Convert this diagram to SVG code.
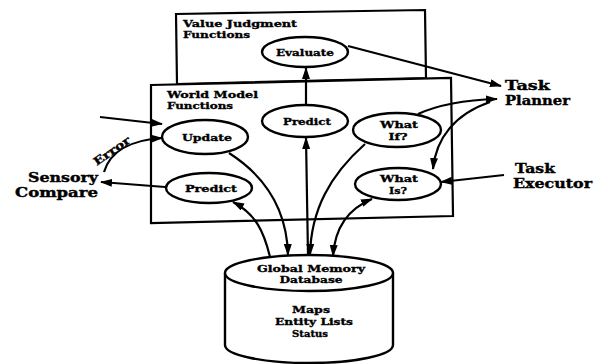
<svg xmlns="http://www.w3.org/2000/svg" width="598" height="364" viewBox="0 0 598 364">
<defs>
<marker id="ah" viewBox="0 0 12 8" refX="11" refY="4" markerWidth="12" markerHeight="8" markerUnits="userSpaceOnUse" orient="auto-start-reverse">
<path d="M0,0 L12,4 L0,8 Z" fill="#000"/>
</marker>
<style>
.b{fill:none;stroke:#000;stroke-width:2.2}
.e{fill:#fff;stroke:#000;stroke-width:2.4}
.c{fill:none;stroke:#000;stroke-width:2.2}
.s{font-family:"DejaVu Serif","Liberation Serif",serif;font-weight:bold;font-size:10px;fill:#000;stroke:#000;stroke-width:0.35}
.m{font-family:"DejaVu Serif","Liberation Serif",serif;font-weight:bold;font-size:10px;fill:#000;stroke:#000;stroke-width:0.35;text-anchor:middle}
.l{font-family:"DejaVu Serif","Liberation Serif",serif;font-weight:bold;font-size:13px;fill:#000;stroke:#000;stroke-width:0.4}
</style>
</defs>
<rect width="598" height="364" fill="#fff"/>

<g id="value-judgment">
<path class="b" d="M176,14 L425,10 L426,78 L177,84 Z"/>
<text class="s" x="183" y="27" textLength="114" lengthAdjust="spacingAndGlyphs">Value Judgment</text>
<text class="s" x="183" y="38" textLength="67" lengthAdjust="spacingAndGlyphs">Functions</text>
</g>

<g id="world-model">
<path class="b" d="M151,85 L451,78 L453,216 L151,223 Z" style="fill:#fff"/>
<text class="s" x="167" y="98" textLength="91" lengthAdjust="spacingAndGlyphs">World Model</text>
<text class="s" x="167" y="109" textLength="66" lengthAdjust="spacingAndGlyphs">Functions</text>
</g>

<g id="connectors">
<path class="c" d="M348,46 L501,86" marker-end="url(#ah)"/>
<path class="c" d="M306,106 L306,68" marker-end="url(#ah)"/>
<path class="c" d="M308,256 L306,138" marker-end="url(#ah)"/>
<path class="c" d="M418,114 C440,104 465,100 497,99" marker-end="url(#ah)"/>
<path class="c" d="M490,102 C455,114 436,138 433,169" marker-end="url(#ah)"/>
<path class="c" d="M504,175 L441,182" marker-end="url(#ah)"/>
<path class="c" d="M100,117 L162,124" marker-end="url(#ah)"/>
<path class="c" d="M104,172 C110,152 130,140 162,138" marker-end="url(#ah)"/>
<path class="c" d="M165,187 L101,182" marker-end="url(#ah)"/>
<path class="c" d="M270,257 C264,232 256,214 233,202" marker-end="url(#ah)"/>
<path class="c" d="M229,153 C268,178 287,212 288,255" marker-end="url(#ah)"/>
<path class="c" d="M365,144 C330,175 311,210 310,255" marker-end="url(#ah)"/>
<path class="c" d="M333,256 C335,226 350,208 372,199" marker-start="url(#ah)" marker-end="url(#ah)"/>
</g>

<g id="evaluate">
<ellipse class="e" cx="305" cy="52" rx="43" ry="15"/>
<text class="m" x="305" y="56" textLength="58" lengthAdjust="spacingAndGlyphs">Evaluate</text>
</g>

<g id="predict-top">
<ellipse class="e" cx="305" cy="121" rx="43" ry="16"/>
<text class="m" x="307" y="125" textLength="48" lengthAdjust="spacingAndGlyphs">Predict</text>
</g>

<g id="update">
<ellipse class="e" cx="205" cy="137" rx="43" ry="17"/>
<text class="m" x="207" y="141" textLength="50" lengthAdjust="spacingAndGlyphs">Update</text>
</g>

<g id="predict-left">
<ellipse class="e" cx="209" cy="188" rx="43" ry="15"/>
<text class="m" x="211" y="192" textLength="52" lengthAdjust="spacingAndGlyphs">Predict</text>
</g>

<g id="what-if">
<ellipse class="e" cx="397" cy="130" rx="44" ry="17"/>
<text class="m" x="399" y="128" textLength="38" lengthAdjust="spacingAndGlyphs">What</text>
<text class="m" x="398" y="140" textLength="19" lengthAdjust="spacingAndGlyphs">If?</text>
</g>

<g id="what-is">
<ellipse class="e" cx="398" cy="184" rx="43" ry="16"/>
<text class="m" x="399" y="182" textLength="38" lengthAdjust="spacingAndGlyphs">What</text>
<text class="m" x="398" y="194" textLength="18" lengthAdjust="spacingAndGlyphs">Is?</text>
</g>

<g id="task-planner">
<text class="l" x="505" y="90" textLength="45" lengthAdjust="spacingAndGlyphs">Task</text>
<text class="l" x="505" y="105" textLength="65" lengthAdjust="spacingAndGlyphs">Planner</text>
</g>

<g id="task-executor">
<text class="l" x="515" y="173" textLength="40" lengthAdjust="spacingAndGlyphs">Task</text>
<text class="l" x="513" y="188" textLength="79" lengthAdjust="spacingAndGlyphs">Executor</text>
</g>

<g id="sensory-compare">
<text class="l" x="28" y="182" textLength="70" lengthAdjust="spacingAndGlyphs">Sensory</text>
<text class="l" x="15" y="197" textLength="83" lengthAdjust="spacingAndGlyphs">Compare</text>
</g>

<g id="error-label">
<text class="m" x="0" y="0" transform="translate(114,154) rotate(-35)" textLength="42" lengthAdjust="spacingAndGlyphs" style="font-size:11px">Error</text>
</g>

<g id="global-memory">
<path class="e" d="M225,273 L225,345 A84,18 0 0 0 393,345 L393,273"/>
<ellipse class="e" cx="309" cy="273" rx="84" ry="18"/>
<text class="m" x="311" y="272" textLength="108" lengthAdjust="spacingAndGlyphs">Global Memory</text>
<text class="m" x="311" y="283" textLength="63" lengthAdjust="spacingAndGlyphs">Database</text>
<text class="m" x="311" y="313" textLength="38" lengthAdjust="spacingAndGlyphs">Maps</text>
<text class="m" x="314" y="325" textLength="78" lengthAdjust="spacingAndGlyphs">Entity Lists</text>
<text class="m" x="310" y="337" textLength="36" lengthAdjust="spacingAndGlyphs">Status</text>
</g>
</svg>
